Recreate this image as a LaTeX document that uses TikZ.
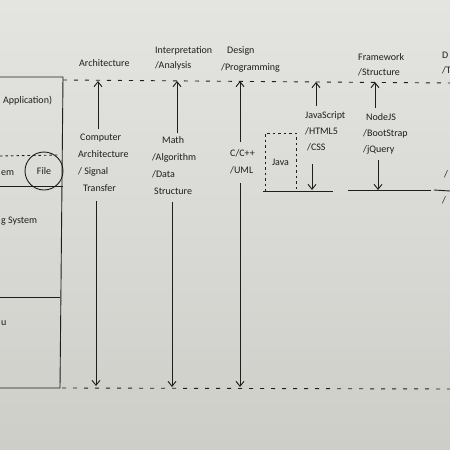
\documentclass[tikz,border=0pt]{standalone}
\usepackage{fontspec}
\setmainfont{Carlito}
\usetikzlibrary{arrows.meta,calc}
\definecolor{ink}{RGB}{30,30,30}
\definecolor{papertop}{RGB}{228,229,225}
\definecolor{paperbot}{RGB}{206,206,201}
\begin{document}
\begin{tikzpicture}[x=1pt,y=-1pt,
  inkline/.style={draw=ink,line width=0.9pt},
  dashline/.style={draw=ink,line width=0.9pt,dash pattern=on 4pt off 7pt},
  fineDash/.style={draw=ink,line width=0.9pt,dash pattern=on 2.5pt off 3pt},
  arr/.style={draw=ink,line width=0.9pt,-{Straight Barb[length=5pt,width=8pt]}},
  lbl/.style={text=ink,font=\fontsize{10}{17}\selectfont,inner sep=1pt,align=left},
  lbltop/.style={text=ink,font=\fontsize{10}{15}\selectfont,inner sep=1pt,align=left},
  lblmid/.style={text=ink,font=\fontsize{10}{16}\selectfont,inner sep=1pt,align=left}
]
\useasboundingbox (0,0) rectangle (450,450);
\shade[top color=papertop,bottom color=paperbot] (0,0) rectangle (450,450);

% guide lines
\draw[dashline] (63,80) -- (450,83);
\draw[dashline] (62,388) -- (450,389);

% left box
\draw[inkline] (0,77) -- (63,77) -- (60,388) -- (0,388);
\draw[inkline] (0,186) -- (63,186);
\draw[inkline] (0,297) -- (60,297);
\draw[fineDash] (0,156) -- (58,155);
\node[circle,draw=ink,line width=0.9pt,minimum size=38pt,lbl] (file) at (44,171) {File};
\node[lbl,anchor=west] (app) at (2,101) {Application)};
\node[lbl,anchor=west] (em) at (0,173) {em};
\node[lbl,anchor=west] (gsys) at (0,221) {g System};
\node[lbl,anchor=west] (uu) at (0,323) {u};

% top labels
\node[lbl,anchor=west] (arch) at (78,63) {Architecture};
\node[lbltop,anchor=west] (interp) at (154,58) {Interpretation\\/Analysis};
\node[lbl,anchor=west] (design) at (220,59.5) {\hspace*{6pt}Design\\/Programming};
\node[lbltop,anchor=west] (frame) at (357,64.5) {Framework\\/Structure};
\node[lbltop,anchor=west] (dcut) at (441,63.5) {D\\/T};

% column texts
\node[lbl,anchor=west] (comp) at (77,163) {\hspace*{2pt}Computer\\Architecture\\/ Signal\\\hspace*{5pt}Transfer};
\node[lbl,anchor=west] (math) at (151,165.5) {\hspace*{10pt}Math\\/Algorithm\\/Data\\\hspace*{2pt}Structure};
\node[lbl,anchor=west] (cpp) at (229,161.5) {C/C++\\/UML};
\node[lblmid,anchor=west] (js) at (304,131) {JavaScript\\/HTML5\\\hspace*{2pt}/CSS};
\node[lblmid,anchor=west] (nodejs) at (362,134) {\hspace*{3pt}NodeJS\\/BootStrap\\/jQuery};
\node[lbl,anchor=west] (rcut1) at (443,174) {/};
\node[lbl,anchor=west] (rcut2) at (441,200) {/};

% Java box
\node[fineDash,minimum width=31pt,minimum height=58pt,lbl] (java) at (280.5,162) {Java};

% base lines
\coordinate (l4a) at (263,191); \coordinate (l4b) at (333,191);
\coordinate (l5a) at (348,190); \coordinate (l5b) at (431,190);
\coordinate (l6a) at (434,190); \coordinate (l6b) at (450,191);
\draw[inkline] (l4a) -- (l4b);
\draw[inkline] (l5a) -- (l5b);
\draw[inkline] (l6a) -- (l6b);

% arrow end coordinates
\coordinate (t1) at (98,81);  \coordinate (b1) at (96,386);
\coordinate (t2) at (177,81); \coordinate (b2) at (172,387);
\coordinate (t3) at (240,81); \coordinate (b3) at (240,387);
\coordinate (t4) at (316,82); \coordinate (b4) at (312,190);
\coordinate (t5) at (375,82); \coordinate (b5) at (378,190);

\draw[arr,shorten <=4pt] (comp.north -| t1) -- (t1);
\draw[arr,shorten <=8pt] (comp.south -| b1) -- (b1);
\draw[arr,shorten <=2pt] (math.north -| t2) -- (t2);
\draw[arr,shorten <=6pt] (math.south -| b2) -- (b2);
\draw[arr,shorten <=6pt] (cpp.north -| t3) -- (t3);
\draw[arr,shorten <=8pt] (cpp.south -| b3) -- (b3);
\draw[arr,shorten <=4pt] (js.north -| t4) -- (t4);
\draw[arr,shorten <=12pt] (js.south -| b4) -- (b4);
\draw[arr,shorten <=4pt] (nodejs.north -| t5) -- (t5);
\draw[arr,shorten <=4pt] (nodejs.south -| b5) -- (b5);
\end{tikzpicture}
\end{document}
